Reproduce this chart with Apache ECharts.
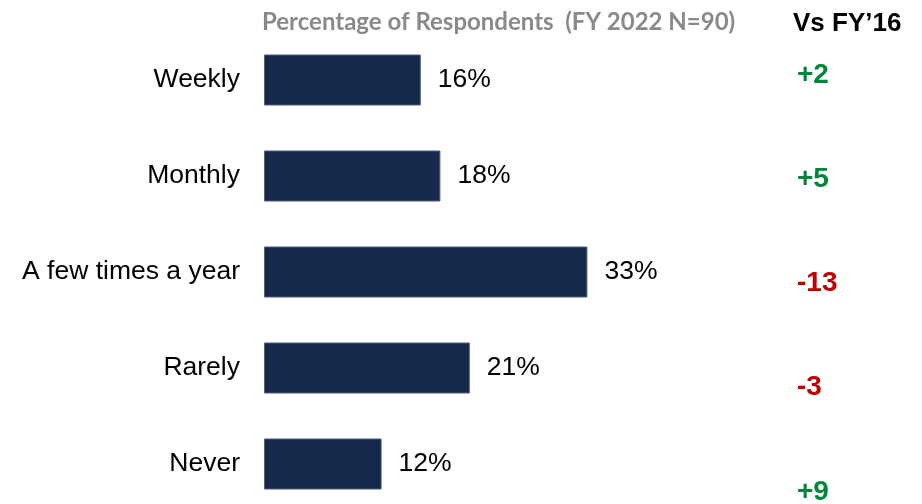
<!DOCTYPE html>
<html>
<head>
<meta charset="utf-8">
<script src="https://cdn.jsdelivr.net/npm/echarts@6/dist/echarts.min.js"></script>
<style>
  html, body { margin: 0; padding: 0; background: #fff; }
  #chart { width: 922px; height: 504px; }
</style>
</head>
<body>
<div id="chart"></div>
<script>
// Survey frequency categories, FY 2022 share of respondents, and change vs FY'16
const categories = ['Weekly', 'Monthly', 'A few times a year', 'Rarely', 'Never'];
const shares = [16, 18, 33, 21, 12];
const changeVsFY16 = [2, 5, -13, -3, 9];

const chart = echarts.init(document.getElementById('chart'), null, { renderer: 'canvas' });

const sans = 'Liberation Sans, Arial, sans-serif';

chart.setOption({
  backgroundColor: '#ffffff',
  animation: false,
  title: [
    {
      text: 'Percentage of Respondents  (FY 2022 N=90)',
      left: 262,
      top: 10,
      padding: 0,
      textStyle: { fontFamily: 'Lato', fontWeight: 'bold', fontSize: 24, color: '#8a8a8a' }
    },
    {
      text: 'Vs FY\u201916',
      left: 793,
      top: 11,
      padding: 0,
      textStyle: { fontFamily: sans, fontWeight: 'bold', fontSize: 26, color: '#000' }
    }
  ],
  // Bars grid: category centres sit on the grid edges (boundaryGap off)
  grid: [
    { left: 264, top: 80, width: 392, height: 384, containLabel: false },
    { left: 797, top: 75, width: 100, height: 417, containLabel: false }
  ],
  xAxis: [
    { gridIndex: 0, type: 'value', min: 0, max: 40, show: false },
    { gridIndex: 1, type: 'value', min: 0, max: 1, show: false }
  ],
  yAxis: [
    {
      gridIndex: 0,
      type: 'category',
      data: categories,
      inverse: true,
      boundaryGap: false,
      axisLine: { show: false },
      axisTick: { show: false },
      splitLine: { show: false },
      axisLabel: { fontFamily: sans, fontSize: 26.5, color: '#000', margin: 24 }
    },
    {
      gridIndex: 1,
      type: 'category',
      data: categories,
      inverse: true,
      boundaryGap: false,
      show: false
    }
  ],
  series: [
    {
      type: 'bar',
      xAxisIndex: 0,
      yAxisIndex: 0,
      data: shares,
      barWidth: 51,
      itemStyle: { color: '#15294b', borderColor: '#4f5f7f', borderWidth: 1 },
      label: {
        show: true,
        position: 'right',
        distance: 17,
        formatter: '{c}%',
        fontFamily: sans,
        fontSize: 26.5,
        color: '#000'
      }
    },
    {
      // Change vs FY'16, coloured by sign
      type: 'scatter',
      xAxisIndex: 1,
      yAxisIndex: 1,
      symbolSize: 0,
      itemStyle: { color: 'transparent', opacity: 1 },
      data: changeVsFY16.map((v, i) => ({
        value: [0, categories[i]],
        delta: v,
        label: { color: v >= 0 ? '#00873c' : '#c00000' }
      })),
      label: {
        show: true,
        position: 'right',
        distance: 0,
        fontFamily: sans,
        fontWeight: 'bold',
        fontSize: 28,
        formatter: p => (p.data.delta > 0 ? '+' : '') + p.data.delta
      },
      emphasis: { disabled: true }
    }
  ]
});
</script>
</body>
</html>
